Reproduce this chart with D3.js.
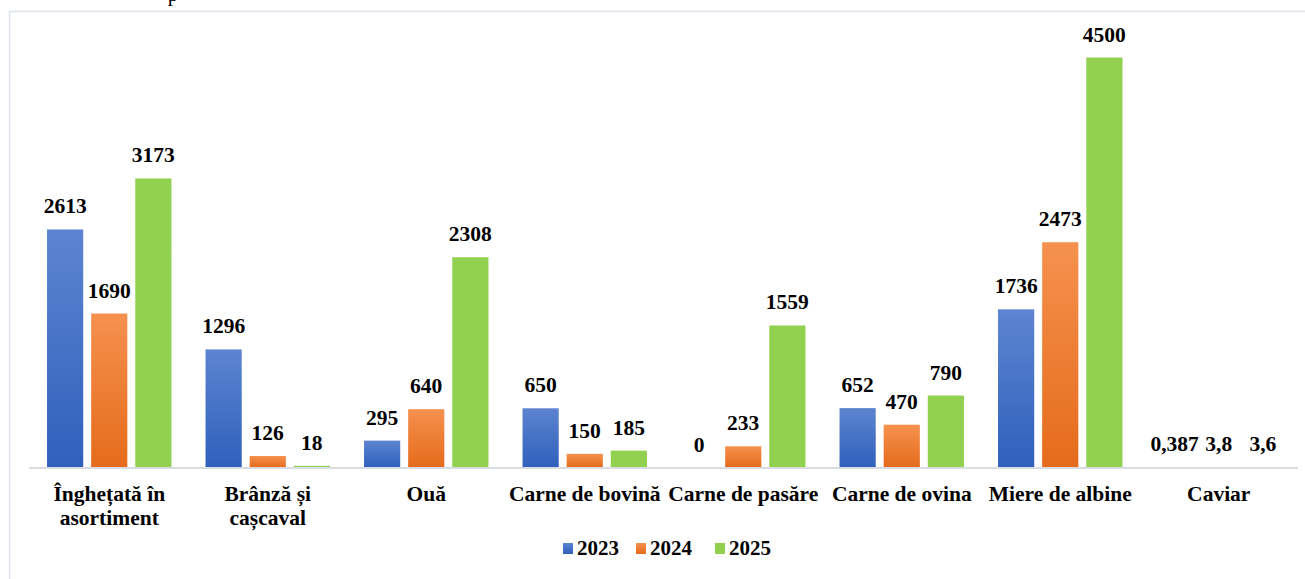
<!DOCTYPE html>
<html>
<head>
<meta charset="utf-8">
<script src="https://cdn.jsdelivr.net/npm/d3@7"></script>
</head>
<body style="margin:0;padding:0;background:#fff">
<div id="chart"></div>
<script>
// chart data
var categories = [["Înghețată în", "asortiment"], ["Brânză și", "cașcaval"], ["Ouă"], ["Carne de bovină"],
	["Carne de pasăre"], ["Carne de ovina"], ["Miere de albine"], ["Caviar"]];
var years = ["2023", "2024", "2025"];
var values2023 = [2613, 1296, 295, 650, 0, 652, 1736, 0.387];
var values2024 = [1690, 126, 640, 150, 233, 470, 2473, 3.8];
var values2025 = [3173, 18, 2308, 185, 1559, 790, 4500, 3.6];
var yTicks = [0, 1000, 2000, 3000, 4000, 5000];

var series = [values2023, values2024, values2025];
var colors = [
	{ top: "#5d84d0", bottom: "#2f60bc" },
	{ top: "#f5914f", bottom: "#e56b1b" },
	{ top: "#92d050", bottom: "#92d050" }
];

var FONT = "'Liberation Serif', 'Times New Roman', serif";

var W = 1305, H = 579;
var svg = d3.select("#chart").append("svg")
	.attr("width", W)
	.attr("height", H)
	.style("display", "block");

function label(sel, size) {
	return sel.style("font-family", FONT)
		.style("font-weight", "bold")
		.style("font-size", size + "px")
		.attr("fill", "#000");
}

var defs = svg.append("defs");
colors.forEach(function(c, i) {
	var g = defs.append("linearGradient")
		.attr("id", "grad" + i)
		.attr("x1", 0).attr("y1", 0).attr("x2", 0).attr("y2", 1);
	g.append("stop").attr("offset", "0%").attr("stop-color", c.top);
	g.append("stop").attr("offset", "100%").attr("stop-color", c.bottom);
});

// bit of the title above the frame (cut off in the source)
svg.append("text")
	.attr("x", 173).attr("y", 1)
	.attr("text-anchor", "middle")
	.style("font-family", FONT)
	.style("font-size", "21px")
	.text("p");

svg.append("path")
	.attr("d", "M9.5," + H + " V11.5 H" + W)
	.attr("fill", "none")
	.attr("stroke", "#dde2ea")
	.attr("stroke-width", 1.5);

// scales
var x0 = d3.scaleBand()
	.domain(d3.range(categories.length))
	.range([30, 1298])
	.paddingInner(0.215)
	.paddingOuter(0.1075);

var x1 = d3.scaleBand()
	.domain(d3.range(years.length))
	.range([0, x0.bandwidth()])
	.paddingInner(0.18);

var y = d3.scaleLinear()
	.domain([0, d3.max(yTicks)])
	.range([467.5, 12]);

var fmt = function(v) { return String(v).replace(".", ","); };

// bars
var groups = svg.append("g").selectAll("g.group")
	.data(categories)
	.enter().append("g")
	.attr("class", "group")
	.attr("transform", function(d, i) { return "translate(" + x0(i) + ",0)"; });

years.forEach(function(yr, s) {
	groups.append("rect")
		.attr("x", x1(s))
		.attr("y", function(d, i) { return y(series[s][i]); })
		.attr("width", x1.bandwidth())
		.attr("height", function(d, i) { return y(0) - y(series[s][i]); })
		.attr("fill", "url(#grad" + s + ")");

	label(groups.append("text"), 21.5)
		.attr("x", x1(s) + x1.bandwidth() / 2)
		.attr("y", function(d, i) { return y(series[s][i]) - 16; })
		.attr("text-anchor", "middle")
		.text(function(d, i) { return fmt(series[s][i]); });
});

// x axis
var xAxis = d3.axisBottom(x0).tickSize(0).tickFormat("");
var gx = svg.append("g")
	.attr("transform", "translate(0," + (y(0) + 0.5) + ")")
	.call(xAxis);
gx.select(".domain")
	.attr("d", "M29,0 H1298")
	.attr("stroke", "#d9dce1")
	.attr("stroke-width", 2);

gx.selectAll(".tick").each(function(d) {
	var t = label(d3.select(this).append("text"), 21.5)
		.attr("text-anchor", "middle");
	categories[d].forEach(function(line, k) {
		t.append("tspan")
			.attr("x", 0)
			.attr("y", 33 + k * 24)
			.text(line);
	});
});

// legend
var legendX = [563, 636, 715];
var legend = svg.append("g").selectAll("g")
	.data(years)
	.enter().append("g")
	.attr("transform", function(d, i) { return "translate(" + legendX[i] + ",543)"; });

legend.append("rect")
	.attr("width", 10).attr("height", 11)
	.attr("fill", function(d, i) { return "url(#grad" + i + ")"; });

label(legend.append("text"), 21)
	.attr("x", 14).attr("y", 12)
	.text(function(d) { return d; });
</script>
</body>
</html>
